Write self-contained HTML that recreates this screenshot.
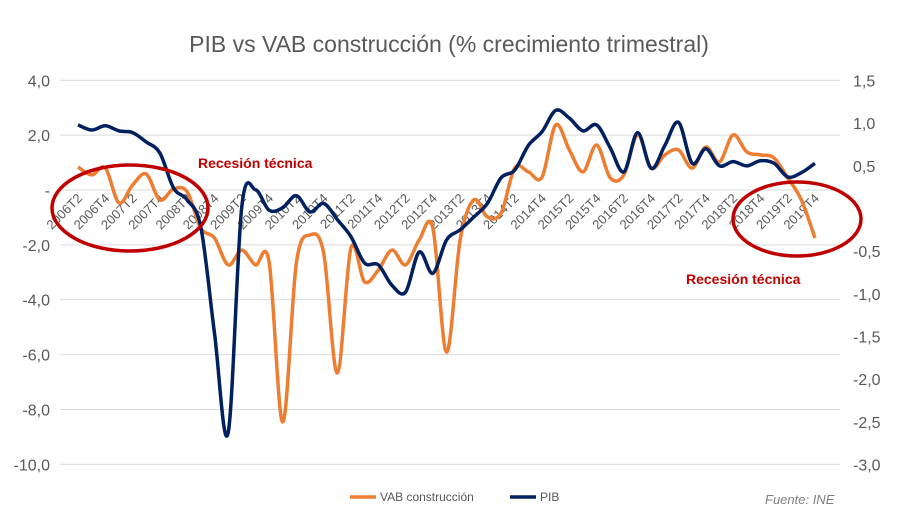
<!DOCTYPE html>
<html><head><meta charset="utf-8"><style>
body{margin:0;background:#fff;}
svg{display:block;font-family:"Liberation Sans",sans-serif;}
</style></head><body>
<svg id="chart" width="921" height="529">
<text x="449" y="52" text-anchor="middle" font-size="23" fill="#595959">PIB vs VAB construcción (% crecimiento trimestral)</text>
<g id="grid"></g><g id="xlabels"></g><g id="series"></g>
<ellipse cx="130" cy="208" rx="78" ry="43" fill="none" stroke="#c00000" stroke-width="3.5"/>
<ellipse cx="797" cy="219" rx="64" ry="37" fill="none" stroke="#c00000" stroke-width="3.5"/>
<text x="198" y="168" font-size="14" font-weight="bold" fill="#c00000">Recesión técnica</text>
<text x="686" y="284" font-size="14" font-weight="bold" fill="#c00000">Recesión técnica</text>
<g>
<line x1="350" y1="497" x2="376" y2="497" stroke="#ed7d31" stroke-width="3.5"/>
<text x="380" y="501" font-size="12" fill="#595959">VAB construcción</text>
<line x1="510" y1="497" x2="536" y2="497" stroke="#002060" stroke-width="3.5"/>
<text x="540" y="501" font-size="12" fill="#595959">PIB</text>
</g>
<text x="765" y="504" font-size="13" font-style="italic" fill="#7f7f7f">Fuente: INE</text>
</svg>
<script>
const leftTicks=[4,2,0,-2,-4,-6,-8,-10];
const leftTickLabels=["4,0","2,0","-","-2,0","-4,0","-6,0","-8,0","-10,0"];
const rightTicks=[1.5,1,0.5,-0.5,-1,-1.5,-2,-2.5,-3];
const rightTickLabels=["1,5","1,0","0,5","-0,5","-1,0","-1,5","-2,0","-2,5","-3,0"];
const vab=[0.84,0.55,0.80,-0.47,0.18,0.58,-0.36,0.04,-0.07,-1.39,-1.75,-2.73,-2.19,-2.73,-2.62,-8.46,-2.66,-1.64,-2.30,-6.67,-2.11,-3.35,-2.92,-2.19,-2.73,-1.82,-1.39,-5.91,-1.82,-0.36,-0.98,-0.84,0.80,0.66,0.47,2.37,1.46,0.66,1.64,0.44,0.55,2.01,0.80,1.28,1.46,0.80,1.57,1.02,2.01,1.39,1.28,1.17,0.44,-0.36,-1.75];
const pib=[0.98,0.92,0.97,0.91,0.89,0.78,0.65,0.24,0.10,-0.22,-1.46,-2.63,0.02,0.22,-0.02,0.01,0.15,-0.04,0.06,-0.13,-0.33,-0.64,-0.66,-0.90,-0.98,-0.51,-0.76,-0.37,-0.25,-0.10,0.06,0.36,0.45,0.74,0.90,1.15,1.06,0.91,0.98,0.71,0.43,0.89,0.47,0.74,1.01,0.53,0.70,0.50,0.55,0.50,0.56,0.53,0.37,0.42,0.53];
const quarters=[];
for(let y=2006;y<=2019;y++)for(let q=1;q<=4;q++){if(y===2006&&q===1)continue;quarters.push(y+"T"+q);}
const NS="http://www.w3.org/2000/svg";
const xS=i=>78+i*(815-78)/(quarters.length-1);
const yL=v=>190-v*27.43;
const yR=v=>208.5-v*85.3;
function mk(t,a,p){const e=document.createElementNS(NS,t);for(const k in a)e.setAttribute(k,a[k]);p.appendChild(e);return e;}
const grid=document.getElementById('grid');
leftTicks.forEach((v,i)=>{
 const l=mk('line',{x1:60,x2:840,y1:yL(v),y2:yL(v),stroke:'#d9d9d9','stroke-width':1},grid);
 
 
 const t=mk('text',{x:50,y:yL(v)+6,'text-anchor':'end','font-size':16,fill:'#595959'},grid);
 t.textContent=leftTickLabels[i];
 
 
});
rightTicks.forEach((v,i)=>{
 const t=mk('text',{x:853,y:yR(v)+6,'font-size':16,fill:'#595959'},grid);
 t.textContent=rightTickLabels[i];
 
 
});
const xl=document.getElementById('xlabels');
quarters.forEach((q,i)=>{
 if(i%2)return;
 const x=xS(i)+5,y=199;
 const t=mk('text',{x:x,y:y,'text-anchor':'end','font-size':13,fill:'#595959',transform:`rotate(-45 ${x} ${y})`},xl);
 t.textContent=q;
 
 
});
function smooth(pts){
 let d=`M${pts[0][0]},${pts[0][1]}`;
 for(let i=0;i<pts.length-1;i++){
  const p0=pts[Math.max(0,i-1)],p1=pts[i],p2=pts[i+1],p3=pts[Math.min(pts.length-1,i+2)];
  const c1=[p1[0]+(p2[0]-p0[0])/6,p1[1]+(p2[1]-p0[1])/6];
  const c2=[p2[0]-(p3[0]-p1[0])/6,p2[1]-(p3[1]-p1[1])/6];
  d+=`C${c1[0]},${c1[1]} ${c2[0]},${c2[1]} ${p2[0]},${p2[1]}`;
 }
 return d;
}
const sg=document.getElementById('series');
const pv=mk('path',{d:smooth(vab.map((v,i)=>[xS(i),yL(v)])),fill:'none',stroke:'#ed7d31','stroke-width':3.5,'stroke-linejoin':'round'},sg);


const pp=mk('path',{d:smooth(pib.map((v,i)=>[xS(i),yR(v)])),fill:'none',stroke:'#002060','stroke-width':3.5,'stroke-linejoin':'round'},sg);


</script>
</body></html>
